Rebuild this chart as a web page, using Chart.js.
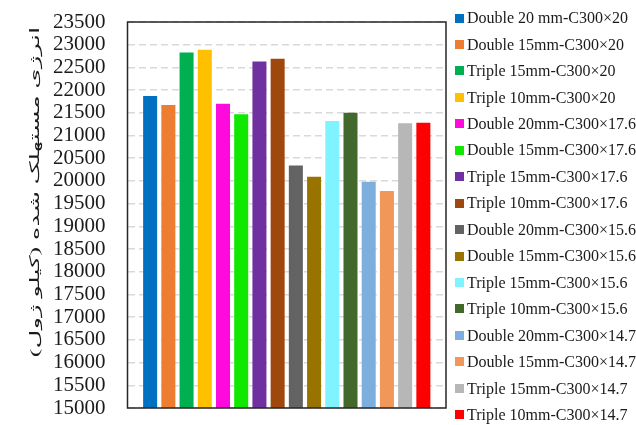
<!DOCTYPE html>
<html>
<head>
<meta charset="utf-8">
<script src="https://cdn.jsdelivr.net/npm/chart.js@4"></script>
<style>
html,body{margin:0;padding:0;background:#fff;}
#wrap{width:636px;height:425px;}
</style>
</head>
<body>
<div id="wrap"><canvas id="c" width="636" height="425"></canvas></div>
<script>
const categories = [''];
const seriesLabels = [
  'Double 20 mm-C300×20',
  'Double 15mm-C300×20',
  'Triple 15mm-C300×20',
  'Triple 10mm-C300×20',
  'Double 20mm-C300×17.6',
  'Double 15mm-C300×17.6',
  'Triple 15mm-C300×17.6',
  'Triple 10mm-C300×17.6',
  'Double 20mm-C300×15.6',
  'Double 15mm-C300×15.6',
  'Triple 15mm-C300×15.6',
  'Triple 10mm-C300×15.6',
  'Double 20mm-C300×14.7',
  'Double 15mm-C300×14.7',
  'Triple 15mm-C300×14.7',
  'Triple 10mm-C300×14.7'
];
const seriesValues = [21870, 21670, 22830, 22890, 21700, 21470, 22630, 22690, 20340, 20090, 21320, 21500, 19980, 19780, 21270, 21280];
const seriesColors = ['#0070C0', '#ED7D31', '#00B050', '#FFC000', '#FF0ADC', '#10E800', '#7030A0', '#9E480E', '#636363', '#997300', '#7FF3FF', '#43682B', '#7CAFDD', '#F1975A', '#B7B7B7', '#FF0000'];
const yMin = 15000, yMax = 23500, yStep = 500;
const yTitle = 'انرژی مستهلک شده (کیلو ژول)';

const datasets = seriesLabels.map((lab, i) => ({
  label: lab,
  data: [seriesValues[i]],
  backgroundColor: seriesColors[i],
  borderWidth: 0,
  categoryPercentage: 0.915,
  barPercentage: 0.77
}));

const framePlugin = {
  id: 'frame',
  afterDraw(chart) {
    const ctx = chart.ctx, a = chart.chartArea;
    ctx.save();
    ctx.strokeStyle = '#262626';
    ctx.lineWidth = 1.5;
    ctx.strokeRect(a.left, a.top, a.right - a.left, a.bottom - a.top);
    ctx.restore();
    // y axis title
    ctx.save();
    ctx.translate(35, 192);
    ctx.rotate(-Math.PI / 2);
    ctx.scale(1.45, 0.74);
    ctx.direction = 'rtl';
    ctx.font = '18px "Liberation Serif", "DejaVu Sans"';
    ctx.fillStyle = '#1a1a1a';
    ctx.textAlign = 'center';
    ctx.textBaseline = 'middle';
    ctx.fillText(yTitle, 0, 0);
    ctx.restore();
    // legend
    ctx.save();
    ctx.font = '16px "Liberation Serif"';
    ctx.textBaseline = 'middle';
    ctx.textAlign = 'left';
    chart.data.datasets.forEach((ds, i) => {
      const y = 18 + i * 26.45;
      ctx.fillStyle = ds.backgroundColor;
      ctx.fillRect(455, Math.round(y - 4.5), 9, 9);
      ctx.fillStyle = '#1a1a1a';
      ctx.fillText(ds.label, 467, y + 1);
    });
    ctx.restore();
  }
};

new Chart(document.getElementById('c'), {
  type: 'bar',
  data: { labels: categories, datasets },
  options: {
    responsive: false,
    devicePixelRatio: 1,
    animation: false,
    layout: { padding: { left: 0, right: 190, top: 22, bottom: 17 } },
    plugins: { legend: { display: false }, tooltip: { enabled: false } },
    scales: {
      x: { display: false },
      y: {
        min: yMin, max: yMax,
        afterFit(scale) { scale.width = 127.5; scale.paddingTop = 0; scale.paddingBottom = 0; },
        ticks: {
          stepSize: yStep,
          autoSkip: false,
          padding: 22,
          color: '#1a1a1a',
          font: { family: '"Liberation Serif"', size: 21 },
          callback: (v) => String(v)
        },
        grid: { color: '#d9d9d9', lineWidth: 1.5, drawTicks: false },
        border: { display: false, dash: [7, 4] }
      }
    }
  },
  plugins: [framePlugin]
});
</script>
</body>
</html>
